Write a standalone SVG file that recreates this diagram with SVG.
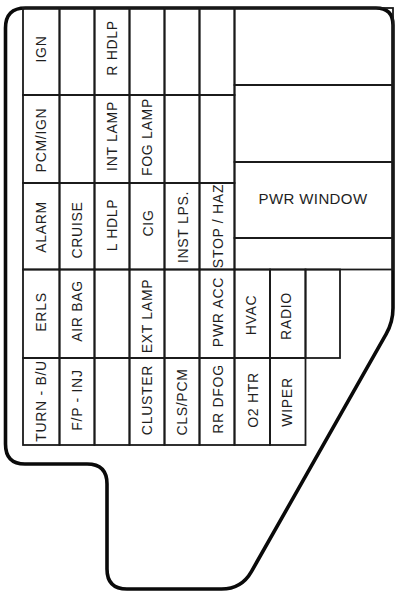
<svg xmlns="http://www.w3.org/2000/svg" width="400" height="596" viewBox="0 0 400 596">
<style>
.c{fill:none;stroke:#1a1a1a;stroke-width:1.8}
.o{fill:none;stroke:#0a0a0a;stroke-width:3.6;stroke-linejoin:round}
.t{font-family:"Liberation Sans",Arial,sans-serif;font-size:14px;letter-spacing:0.7px;text-anchor:middle;fill:#1e1e1e}
.w{font-family:"Liberation Sans",Arial,sans-serif;font-size:15px;letter-spacing:0.4px;text-anchor:middle;fill:#1e1e1e}
</style>
<rect width="400" height="596" fill="#fff"/>
<g id="outline"><path class="o" d="M5.5 28Q5.5 8 25.5 8L376 8Q393 8 393 25L393 308Q393 322 386.1 334.2L251.4 571.6Q241.5 589 221.5 589L127 589Q107 589 107 569L107 484Q107 464 87 464L25 464Q5.5 464 5.5 444Z"/></g>
<g id="connectors"></g>
<!-- column 1 -->
<g id="c1r1"><rect class="c" x="23" y="8" width="36.5" height="87"/><text class="t" transform="translate(46,49) rotate(-90)">IGN</text></g>
<g id="c1r2"><rect class="c" x="23" y="95" width="36.5" height="88"/><text class="t" transform="translate(46,140) rotate(-90)">PCM/IGN</text></g>
<g id="c1r3"><rect class="c" x="23" y="183" width="36.5" height="86.5"/><text class="t" transform="translate(46,227) rotate(-90)">ALARM</text></g>
<g id="c1r4"><rect class="c" x="23" y="269.5" width="36.5" height="88.5"/><text class="t" transform="translate(46,312) rotate(-90)">ERLS</text></g>
<g id="c1r5"><rect class="c" x="23" y="358" width="36.5" height="87"/><text class="t" transform="translate(46,401) rotate(-90)">TURN - B/U</text></g>
<!-- column 2 -->
<g id="c2r1"><rect class="c" x="59.5" y="8" width="35" height="87"/></g>
<g id="c2r2"><rect class="c" x="59.5" y="95" width="35" height="88"/></g>
<g id="c2r3"><rect class="c" x="59.5" y="183" width="35" height="86.5"/><text class="t" transform="translate(82,230) rotate(-90)">CRUISE</text></g>
<g id="c2r4"><rect class="c" x="59.5" y="269.5" width="35" height="88.5"/><text class="t" transform="translate(82,311) rotate(-90)">AIR BAG</text></g>
<g id="c2r5"><rect class="c" x="59.5" y="358" width="35" height="87"/><text class="t" transform="translate(82,400) rotate(-90)">F/P - INJ</text></g>
<!-- column 3 -->
<g id="c3r1"><rect class="c" x="94.5" y="8" width="35" height="87"/><text class="t" transform="translate(117,48) rotate(-90)">R HDLP</text></g>
<g id="c3r2"><rect class="c" x="94.5" y="95" width="35" height="88"/><text class="t" transform="translate(117,136) rotate(-90)">INT LAMP</text></g>
<g id="c3r3"><rect class="c" x="94.5" y="183" width="35" height="86.5"/><text class="t" transform="translate(117,225) rotate(-90)">L HDLP</text></g>
<g id="c3r4"><rect class="c" x="94.5" y="269.5" width="35" height="88.5"/></g>
<g id="c3r5"><rect class="c" x="94.5" y="358" width="35" height="87"/></g>
<!-- column 4 -->
<g id="c4r1"><rect class="c" x="129.5" y="8" width="35" height="87"/></g>
<g id="c4r2"><rect class="c" x="129.5" y="95" width="35" height="88"/><text class="t" transform="translate(152,137) rotate(-90)">FOG LAMP</text></g>
<g id="c4r3"><rect class="c" x="129.5" y="183" width="35" height="86.5"/><text class="t" transform="translate(153,223) rotate(-90)">CIG</text></g>
<g id="c4r4"><rect class="c" x="129.5" y="269.5" width="35" height="88.5"/><text class="t" transform="translate(152,316) rotate(-90)">EXT LAMP</text></g>
<g id="c4r5"><rect class="c" x="129.5" y="358" width="35" height="87"/><text class="t" transform="translate(152,400) rotate(-90)">CLUSTER</text></g>
<!-- column 5 -->
<g id="c5r1"><rect class="c" x="164.5" y="8" width="35" height="87"/></g>
<g id="c5r2"><rect class="c" x="164.5" y="95" width="35" height="88"/></g>
<g id="c5r3"><rect class="c" x="164.5" y="183" width="35" height="86.5"/><text class="t" transform="translate(188,227) rotate(-90)">INST LPS.</text></g>
<g id="c5r4"><rect class="c" x="164.5" y="269.5" width="35" height="88.5"/></g>
<g id="c5r5"><rect class="c" x="164.5" y="358" width="35" height="87"/><text class="t" transform="translate(187,402) rotate(-90)">CLS/PCM</text></g>
<!-- column 6 -->
<g id="c6r1"><rect class="c" x="199.5" y="8" width="35" height="87"/></g>
<g id="c6r2"><rect class="c" x="199.5" y="95" width="35" height="88"/></g>
<g id="c6r3"><rect class="c" x="199.5" y="183" width="35" height="86.5"/><text class="t" transform="translate(223,226) rotate(-90)">STOP / HAZ</text></g>
<g id="c6r4"><rect class="c" x="199.5" y="269.5" width="35" height="88.5"/><text class="t" transform="translate(223,312) rotate(-90)">PWR ACC</text></g>
<g id="c6r5"><rect class="c" x="199.5" y="358" width="35" height="87"/><text class="t" transform="translate(223,399) rotate(-90)">RR DFOG</text></g>
<!-- right block -->
<g id="r1"><rect class="c" x="234.5" y="8" width="158.5" height="77"/></g>
<g id="r2"><rect class="c" x="234.5" y="85" width="158.5" height="77"/></g>
<g id="r3"><rect class="c" x="234.5" y="162" width="158.5" height="76"/><text class="w" x="313" y="204">PWR WINDOW</text></g>
<g id="r4"><rect class="c" x="234.5" y="238" width="158.5" height="31.5"/></g>
<g id="hvac"><rect class="c" x="234.5" y="269.5" width="35.5" height="88.5"/><text class="t" transform="translate(256,315) rotate(-90)">HVAC</text></g>
<g id="radio"><rect class="c" x="270" y="269.5" width="35.5" height="88.5"/><text class="t" transform="translate(291,316) rotate(-90)">RADIO</text></g>
<g id="spare"><rect class="c" x="305.5" y="269.5" width="34.5" height="88.5"/></g>
<g id="o2htr"><rect class="c" x="234.5" y="358" width="35.5" height="87"/><text class="t" transform="translate(258,400) rotate(-90)">O2 HTR</text></g>
<g id="wiper"><rect class="c" x="270" y="358" width="35.5" height="87"/><text class="t" transform="translate(292,402) rotate(-90)">WIPER</text></g>
</svg>
